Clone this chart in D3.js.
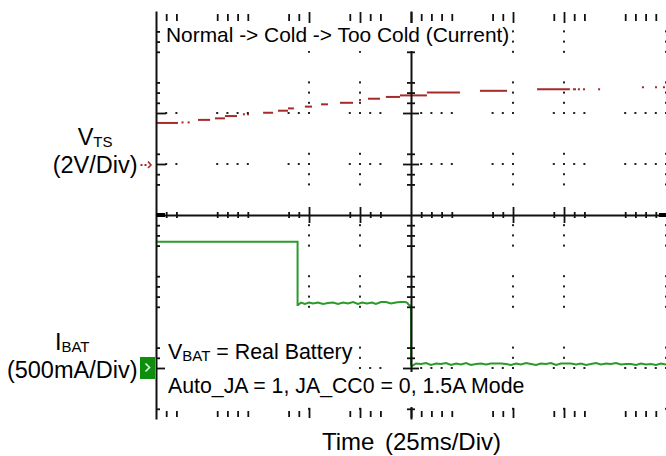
<!DOCTYPE html>
<html><head><meta charset="utf-8">
<script src="https://cdn.jsdelivr.net/npm/d3@7/dist/d3.min.js"></script>
<style>
html,body{margin:0;padding:0;background:#fff}
svg{display:block}
text{font-family:"Liberation Sans",Arial,Helvetica,sans-serif;fill:#000;white-space:pre}
</style></head><body>
<svg id="chart" width="666" height="456"></svg>
<script>
// ---------------- data ----------------
const timeRange = [0, 250];      // ms, 25 ms/div, 10 div
const vtsPerDiv = 2;             // V/div
const ibatPerDiv = 500;          // mA/div
const vtsZeroDiv = 1;            // channel ground marker (div above centre)
const ibatZeroDiv = -3;

// VTS trace pieces: [t start (ms), t end (ms), volts]
const vtsSegments = [
  [0.5, 10.8, 1.61], [12.5, 13.5, 1.63], [15.5, 16.5, 1.63],
  [20.6, 26.5, 1.73], [28.9, 33.8, 1.79], [33.8, 39.7, 1.88],
  [42.6, 43.6, 1.95], [44.6, 45.6, 1.95], [52.5, 57.4, 2.01],
  [59.8, 64.7, 2.09], [64.7, 67.6, 2.18], [73.0, 76.5, 2.25],
  [80.9, 84.3, 2.34], [90.2, 96.6, 2.40], [99.5, 100.5, 2.51],
  [103.9, 109.8, 2.56], [112.7, 119.6, 2.63], [119.6, 132.8, 2.69],
  [132.8, 149.0, 2.80], [158.8, 172.1, 2.87], [186.8, 202.9, 2.93],
  [204.4, 205.9, 2.93], [206.8, 207.8, 2.93], [209.3, 210.3, 2.93],
  [216.7, 217.7, 2.93], [238.2, 239.2, 3.01], [244.6, 245.6, 3.01],
  [248.5, 249.5, 3.01]
];

// IBAT trace: [t (ms), mA]
const ibatTrace = [
  [0, 1238], [69.4, 1238], [69.4, 618],
  [69.6, 618], [71.1, 642], [73.0, 628], [75.0, 642], [77.0, 632], [79.4, 642],
  [81.9, 628], [84.3, 637], [86.8, 642], [89.2, 628], [91.7, 642], [94.1, 632],
  [96.6, 647], [99.0, 628], [101.0, 642], [103.4, 632], [105.9, 642], [107.8, 628],
  [110.3, 647], [112.7, 647], [115.2, 632], [117.6, 642], [119.6, 647], [122.1, 647],
  [123.0, 642], [124.0, 618], [125.0, 608], [125.0, 30],
  [125.5, 20], [127.5, 44], [129.9, 39], [132.4, 49], [134.8, 29], [137.3, 44],
  [139.7, 39], [142.2, 49], [144.6, 29], [147.1, 44], [149.5, 34], [152.0, 49],
  [154.4, 29], [156.9, 39], [159.3, 44], [161.8, 34], [164.2, 44], [166.7, 44],
  [169.1, 44], [171.6, 39], [174.0, 29], [176.5, 44], [178.9, 34], [181.4, 49],
  [183.8, 39], [186.3, 29], [188.7, 44], [191.2, 39], [193.6, 49], [196.1, 29],
  [198.5, 44], [201.0, 44], [203.4, 44], [205.9, 34], [208.3, 44], [210.8, 29],
  [213.2, 39], [215.7, 49], [218.1, 34], [220.6, 44], [223.0, 39], [225.5, 49],
  [227.9, 34], [230.4, 39], [232.8, 39], [235.3, 29], [237.7, 44], [240.2, 34],
  [242.6, 39], [245.1, 29], [247.5, 44], [250.0, 34]
];

// graticule marks that show, in 1/5 div from the centre
const minorMarksX = [-24,-23,-19,-18,-17,-16,-12,-11,-10,-6,-5,-4,-3,0,1,2,3,4,8,9,10,14,15,16,17,21,22,23,24];
const minorMarksY = [18,17,16,13,12,11,10,6,5,4,3,-1,-2,-3,-6,-7,-8,-9,-13,-14,-15,-19];
const dottedColumns = [-2, -1, 2, 3, 5];   // div from centre
const dottedRows = [2, 1, -3];

const titleText = "Normal -> Cold -> Too Cold (Current)";
const noteLine1 = ["V", "BAT", " = Real Battery"];
const noteLine2 = "Auto_JA = 1, JA_CC0 = 0, 1.5A Mode";
const vtsLabel = ["V", "TS", "(2V/Div)"];
const ibatLabel = ["I", "BAT", "(500mA/Div)"];
const timeLabel = ["Time", "(25ms/Div)"];

// ---------------- drawing ----------------
const svg = d3.select("#chart");
const xT = d3.scaleLinear().domain(timeRange).range([156, 666]);
const xDiv = d3.scaleLinear().domain([-5, 5]).range([156, 666]);
const yDiv = d3.scaleLinear().domain([-4, 4]).range([419, 11]);
const yV = d3.scaleLinear().domain([0, vtsPerDiv]).range([yDiv(vtsZeroDiv), yDiv(vtsZeroDiv + 1)]);
const yI = d3.scaleLinear().domain([0, ibatPerDiv]).range([yDiv(ibatZeroDiv), yDiv(ibatZeroDiv + 1)]);

const isMajor = v => v % 5 === 0;
const xMinor = minorMarksX.filter(k => !isMajor(k)).map(k => k / 5);
const xMajor = minorMarksX.filter(k => isMajor(k) && k !== 0).map(k => k / 5);
const xMajorAll = minorMarksX.filter(k => isMajor(k)).map(k => k / 5);
const yMinor = minorMarksY.filter(k => !isMajor(k)).map(k => k / 5);
const yMajor = minorMarksY.filter(k => isMajor(k) && k !== 0).map(k => k / 5);

// traces
const red = "#a52a2a", green = "#2a9a2a";
const segLine = d3.line();
svg.append("g").selectAll("path").data(vtsSegments).join("path")
  .attr("d", s => segLine([[xT(s[0]), yV(s[2])], [xT(s[1]), yV(s[2])]]))
  .attr("fill", "none").attr("stroke", red).attr("stroke-width", 2);
svg.append("path").datum(ibatTrace)
  .attr("d", d3.line().x(d => xT(d[0])).y(d => yI(d[1])))
  .attr("fill", "none").attr("stroke", green).attr("stroke-width", 2);

// dotted graticule
const dots = svg.append("g").attr("fill", "#222");
dottedRows.forEach(r => {
  dots.append("g").selectAll("rect").data(minorMarksX.filter(k => k !== 0)).join("rect")
    .attr("x", k => xDiv(k / 5) - 1).attr("y", yDiv(r) - 1).attr("width", 2).attr("height", 2);
});
dottedColumns.forEach(c => {
  dots.append("g").selectAll("rect").data(minorMarksY).join("rect")
    .attr("x", xDiv(c) - 1).attr("y", n => yDiv(n / 5) - 1).attr("width", 2).attr("height", 2);
});

function styleAxis(g, keepDomain) {
  g.attr("color", "#111");
  g.selectAll(".tick line").attr("stroke-width", 1.8);
  if (keepDomain) g.select(".domain").attr("stroke-width", 2);
  else g.select(".domain").remove();
}
const noFmt = "";
// left border
svg.append("g").attr("transform", "translate(156,0)")
  .call(d3.axisRight(yDiv).tickValues(yMinor).tickSize(4).tickSizeOuter(0).tickFormat(noFmt))
  .call(g => styleAxis(g, true));
svg.append("g").attr("transform", "translate(156,0)")
  .call(d3.axisRight(yDiv).tickValues(yMajor).tickSize(10).tickSizeOuter(0).tickFormat(noFmt))
  .call(g => styleAxis(g, false));
// top ticks
svg.append("g").attr("transform", "translate(0,14)")
  .call(d3.axisBottom(xDiv).tickValues(xMinor).tickSize(7).tickFormat(noFmt))
  .call(g => styleAxis(g, false));
svg.append("g").attr("transform", "translate(0,12)")
  .call(d3.axisBottom(xDiv).tickValues(xMajorAll).tickSize(11).tickFormat(noFmt))
  .call(g => styleAxis(g, false));
// bottom ticks
svg.append("g").attr("transform", "translate(0,417)")
  .call(d3.axisTop(xDiv).tickValues(xMinor).tickSize(6).tickFormat(noFmt))
  .call(g => styleAxis(g, false));
svg.append("g").attr("transform", "translate(0,418)")
  .call(d3.axisTop(xDiv).tickValues(xMajorAll).tickSize(10).tickFormat(noFmt))
  .call(g => styleAxis(g, false));
// centre horizontal axis
const cy = yDiv(0);
[d3.axisTop, d3.axisBottom].forEach((ax, i) => {
  svg.append("g").attr("transform", `translate(0,${cy})`)
    .call(ax(xDiv).tickValues(xMinor).tickSize(3).tickSizeOuter(0).tickFormat(noFmt))
    .call(g => styleAxis(g, i === 0));
  svg.append("g").attr("transform", `translate(0,${cy})`)
    .call(ax(xDiv).tickValues(xMajor).tickSize(8).tickSizeOuter(0).tickFormat(noFmt))
    .call(g => styleAxis(g, false));
});
// centre vertical axis
const cx = xDiv(0);
[d3.axisLeft, d3.axisRight].forEach((ax, i) => {
  svg.append("g").attr("transform", `translate(${cx},0)`)
    .call(ax(yDiv).tickValues(yMinor).tickSize(4).tickSizeOuter(0).tickFormat(noFmt))
    .call(g => styleAxis(g, i === 0));
  svg.append("g").attr("transform", `translate(${cx},0)`)
    .call(ax(yDiv).tickValues(yMajor).tickSize(8).tickSizeOuter(0).tickFormat(noFmt))
    .call(g => styleAxis(g, false));
});
// thick ends of centre axis
svg.append("rect").attr("x", xDiv(-5)).attr("y", cy - 2).attr("width", 9).attr("height", 4).attr("fill", "#000");
svg.append("rect").attr("x", xDiv(5) - 7).attr("y", cy - 2).attr("width", 7).attr("height", 4).attr("fill", "#000");

// in-plot texts with white backgrounds
const boxes = svg.append("g");
const texts = svg.append("g");
const title = texts.append("text").attr("x", 166).attr("y", 42).attr("font-size", 20.9).text(titleText);
let bb = title.node().getBBox();
boxes.append("rect").attr("x", bb.x - 3).attr("y", 23).attr("width", bb.width + 5).attr("height", 28).attr("fill", "#fff");

const n1 = texts.append("text").attr("x", 168).attr("y", 359).attr("font-size", 21.4);
n1.append("tspan").text(noteLine1[0]);
n1.append("tspan").attr("font-size", 15).attr("dy", 2).text(noteLine1[1]);
n1.append("tspan").attr("dy", -2).text(noteLine1[2]);
bb = n1.node().getBBox();
boxes.append("rect").attr("x", 165).attr("y", 341).attr("width", bb.x + bb.width + 2 - 165).attr("height", 29).attr("fill", "#fff");

const n2 = texts.append("text").attr("x", 168).attr("y", 393).attr("font-size", 21.3).text(noteLine2);
bb = n2.node().getBBox();
boxes.append("rect").attr("x", 165).attr("y", 372).attr("width", bb.x + bb.width + 3 - 165).attr("height", 35).attr("fill", "#fff");

// channel labels (right edge of 2nd line at 137)
function chLabel(lab, y1, y2) {
  const l2 = svg.append("text").attr("x", 137.5).attr("y", y2).attr("font-size", 23.5)
    .attr("text-anchor", "end").text(lab[2]);
  const w = l2.node().getComputedTextLength();
  const l1 = svg.append("text").attr("x", 137.5 - w / 2).attr("y", y1).attr("font-size", 23.5)
    .attr("text-anchor", "middle");
  l1.append("tspan").text(lab[0]);
  l1.append("tspan").attr("font-size", 15).attr("dy", 1.5).text(lab[1]);
}
chLabel(vtsLabel, 145, 173);
chLabel(ibatLabel, 350, 378);

// time label
const tl = svg.append("text").attr("y", 450).attr("font-size", 24);
tl.append("tspan").attr("x", 322).text(timeLabel[0]);
tl.append("tspan").attr("x", 385).text(timeLabel[1]);

// channel markers
const vz = yV(0);
svg.append("rect").attr("x", 140.5).attr("y", vz).attr("width", 2).attr("height", 2).attr("fill", red);
svg.append("rect").attr("x", 144.5).attr("y", vz).attr("width", 2).attr("height", 2).attr("fill", red);
svg.append("path").attr("d", `M148,${vz - 2.5}L151,${vz + 1}L148,${vz + 4}`)
  .attr("fill", "none").attr("stroke", red).attr("stroke-width", 1.6);
const iz = yI(0);
svg.append("rect").attr("x", 140).attr("y", iz - 11).attr("width", 15).attr("height", 22).attr("fill", "#0d8f0d");
svg.append("path").attr("d", `M145.5,${iz - 4.5}L149.5,${iz - 0.5}L145.5,${iz + 3.5}`)
  .attr("fill", "none").attr("stroke", "#e6f5e6").attr("stroke-width", 1.6);
</script>
</body></html>
